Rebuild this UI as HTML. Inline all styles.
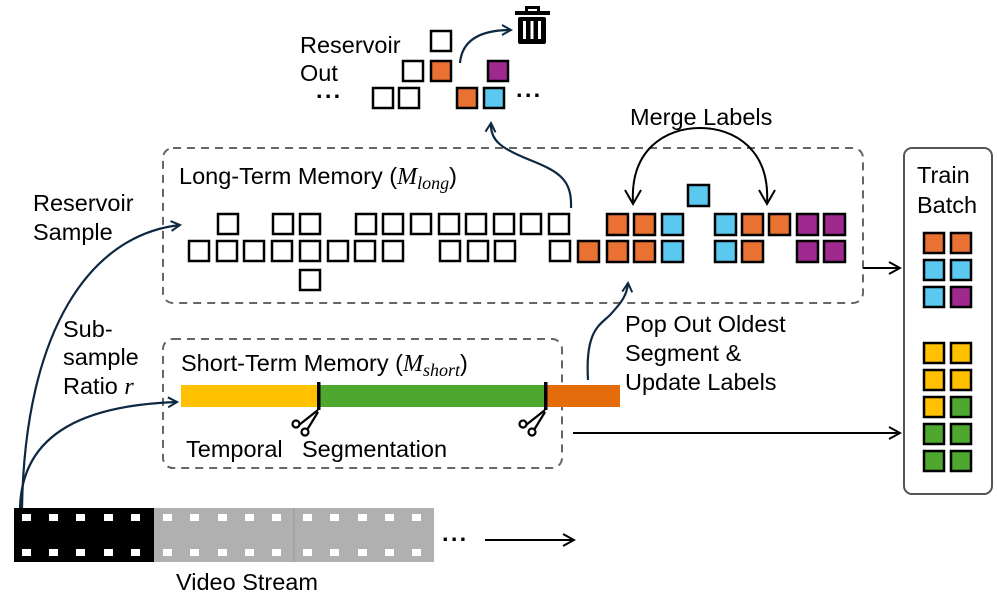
<!DOCTYPE html>
<html><head><meta charset="utf-8"><style>
html,body{margin:0;padding:0;background:#fff;}
svg{display:block;}
text{font-family:"Liberation Sans",sans-serif;font-size:23.5px;fill:#000;}
.m{font-family:"Liberation Serif",serif;font-style:italic;}
</style></head><body>
<svg width="997" height="614" viewBox="0 0 997 614" xmlns="http://www.w3.org/2000/svg">
<defs>
<marker id="ah" viewBox="0 0 12 12" refX="10" refY="6" markerWidth="12" markerHeight="12" markerUnits="userSpaceOnUse" orient="auto">
<path d="M1,1 L10,6 L1,11" fill="none" stroke="#0E2841" stroke-width="2"/></marker>
<marker id="ab" viewBox="0 0 14 14" refX="12" refY="7" markerWidth="14" markerHeight="14" markerUnits="userSpaceOnUse" orient="auto">
<path d="M1,1 L12,7 L1,13" fill="none" stroke="#000" stroke-width="2"/></marker>
</defs>

<rect x="163" y="148" width="700" height="155" rx="10" fill="none" stroke="#666" stroke-width="2" stroke-dasharray="8,6"/>
<rect x="163" y="339" width="399" height="129" rx="10" fill="none" stroke="#666" stroke-width="2" stroke-dasharray="8,6"/>
<rect x="904" y="148" width="88" height="346" rx="8" fill="#fff" stroke="#555" stroke-width="2"/>

<text x="300" y="53">Reservoir</text>
<text x="300" y="81">Out</text>
<text x="316" y="104" style="font-weight:bold;letter-spacing:1px">···</text>
<text x="516" y="103" style="font-weight:bold;letter-spacing:1px">···</text>
<text x="630" y="125">Merge Labels</text>
<text x="179" y="184">Long-Term Memory (<tspan class="m" font-size="24">M</tspan><tspan class="m" font-size="18" dy="5">long</tspan><tspan dy="-5">)</tspan></text>
<text x="33" y="211">Reservoir</text>
<text x="33" y="240">Sample</text>
<text x="63" y="337">Sub-</text>
<text x="63" y="365">sample</text>
<text x="63" y="394">Ratio  <tspan class="m" font-size="24">r</tspan></text>
<text x="181" y="371">Short-Term Memory (<tspan class="m" font-size="24">M</tspan><tspan class="m" font-size="18" dy="5">short</tspan><tspan dy="-5">)</tspan></text>
<text x="186" y="457">Temporal</text>
<text x="302" y="457">Segmentation</text>
<text x="625" y="332">Pop Out Oldest</text>
<text x="625" y="361">Segment &amp;</text>
<text x="625" y="390">Update Labels</text>
<text x="917" y="183">Train</text>
<text x="917" y="213">Batch</text>
<text x="176" y="590">Video Stream</text>
<text x="442" y="547" style="font-weight:bold;letter-spacing:1px">···</text>

<g fill="#000">
<rect x="528" y="6" width="9" height="3"/>
<rect x="525" y="6" width="3" height="6"/><rect x="537" y="6" width="3" height="6"/>
<rect x="515" y="11" width="35" height="4"/>
<rect x="518" y="17" width="28" height="27" rx="2"/>
</g>
<g fill="#fff"><rect x="523" y="21" width="3" height="18"/><rect x="530.5" y="21" width="3" height="18"/><rect x="538" y="21" width="3" height="18"/></g>

<g stroke="#000" stroke-width="2.5">
<rect x="431" y="31" width="20" height="20" fill="#fff"/>
<rect x="403" y="61" width="20" height="20" fill="#fff"/>
<rect x="431" y="61" width="20" height="20" fill="#E97132"/>
<rect x="488" y="61" width="20" height="20" fill="#A0298F"/>
<rect x="373" y="88" width="20" height="20" fill="#fff"/>
<rect x="399" y="88" width="20" height="20" fill="#fff"/>
<rect x="457" y="88" width="20" height="20" fill="#E97132"/>
<rect x="484" y="88" width="20" height="20" fill="#5BC8F0"/>

<g fill="#fff">
<rect x="218" y="214" width="20" height="20"/>
<rect x="273" y="214" width="20" height="20"/><rect x="300" y="214" width="20" height="20"/>
<rect x="356" y="214" width="20" height="20"/><rect x="383" y="214" width="20" height="20"/><rect x="411" y="214" width="20" height="20"/><rect x="439" y="214" width="20" height="20"/><rect x="466" y="214" width="20" height="20"/><rect x="494" y="214" width="20" height="20"/><rect x="521" y="214" width="20" height="20"/><rect x="549" y="214" width="20" height="20"/>
<rect x="189" y="241" width="20" height="20"/><rect x="217" y="241" width="20" height="20"/><rect x="244" y="241" width="20" height="20"/><rect x="272" y="241" width="20" height="20"/><rect x="300" y="241" width="20" height="20"/><rect x="328" y="241" width="20" height="20"/><rect x="355" y="241" width="20" height="20"/><rect x="383" y="241" width="20" height="20"/>
<rect x="440" y="241" width="20" height="20"/><rect x="468" y="241" width="20" height="20"/><rect x="495" y="241" width="20" height="20"/>
<rect x="550" y="241" width="20" height="20"/>
<rect x="300" y="270" width="20" height="20"/>
</g>
<rect x="688" y="185" width="21" height="21" fill="#5BC8F0"/>
<rect x="607" y="214" width="21" height="21" fill="#E97132"/><rect x="634" y="214" width="21" height="21" fill="#E97132"/><rect x="662" y="214" width="21" height="21" fill="#5BC8F0"/>
<rect x="715" y="214" width="21" height="21" fill="#5BC8F0"/><rect x="742" y="214" width="21" height="21" fill="#E97132"/><rect x="769" y="214" width="21" height="21" fill="#E97132"/><rect x="797" y="214" width="21" height="21" fill="#A0298F"/><rect x="824" y="214" width="21" height="21" fill="#A0298F"/>
<rect x="578" y="241" width="21" height="21" fill="#E97132"/><rect x="607" y="241" width="21" height="21" fill="#E97132"/><rect x="634" y="241" width="21" height="21" fill="#E97132"/><rect x="662" y="241" width="21" height="21" fill="#5BC8F0"/>
<rect x="715" y="241" width="21" height="21" fill="#5BC8F0"/><rect x="742" y="241" width="21" height="21" fill="#E97132"/>
<rect x="797" y="241" width="21" height="21" fill="#A0298F"/><rect x="824" y="241" width="21" height="21" fill="#A0298F"/>

<rect x="924" y="233" width="20" height="20" fill="#E97132"/><rect x="951" y="233" width="20" height="20" fill="#E97132"/>
<rect x="924" y="260" width="20" height="20" fill="#5BC8F0"/><rect x="951" y="260" width="20" height="20" fill="#5BC8F0"/>
<rect x="924" y="287" width="20" height="20" fill="#5BC8F0"/><rect x="951" y="287" width="20" height="20" fill="#A0298F"/>
<rect x="924" y="343" width="20" height="20" fill="#FFC000"/><rect x="951" y="343" width="20" height="20" fill="#FFC000"/>
<rect x="924" y="370" width="20" height="20" fill="#FFC000"/><rect x="951" y="370" width="20" height="20" fill="#FFC000"/>
<rect x="924" y="397" width="20" height="20" fill="#FFC000"/><rect x="951" y="397" width="20" height="20" fill="#4EA72E"/>
<rect x="924" y="424" width="20" height="20" fill="#4EA72E"/><rect x="951" y="424" width="20" height="20" fill="#4EA72E"/>
<rect x="924" y="451" width="20" height="20" fill="#4EA72E"/><rect x="951" y="451" width="20" height="20" fill="#4EA72E"/>
</g>

<rect x="181" y="385" width="138" height="22" fill="#FFC000"/>
<rect x="319" y="385" width="227" height="22" fill="#4EA72E"/>
<rect x="546" y="385" width="74" height="22" fill="#E46C0A"/>
<rect x="317" y="382" width="3.5" height="28" fill="#000"/>
<rect x="544" y="382" width="3.5" height="28" fill="#000"/>
<g fill="none" stroke="#000" stroke-width="2.2">
<path d="M318,410 L299,425 M318,412 L307,430"/>
<circle cx="296" cy="424" r="3.5"/><circle cx="305" cy="432" r="3.5"/>
<path d="M545,410 L526,425 M545,412 L534,430"/>
<circle cx="523" cy="424" r="3.5"/><circle cx="532" cy="432" r="3.5"/>
</g>

<rect x="14" y="508" width="140" height="54" fill="#000"/>
<rect x="154" y="508" width="280" height="54" fill="#b0b0b0"/>
<line x1="294" y1="508" x2="294" y2="562" stroke="#999" stroke-width="1"/>
<g fill="#fff">
<rect x="22" y="514" width="9" height="7"/><rect x="49" y="514" width="9" height="7"/><rect x="76" y="514" width="9" height="7"/><rect x="104" y="514" width="9" height="7"/><rect x="131" y="514" width="9" height="7"/>
<rect x="22" y="549" width="9" height="7"/><rect x="49" y="549" width="9" height="7"/><rect x="76" y="549" width="9" height="7"/><rect x="104" y="549" width="9" height="7"/><rect x="131" y="549" width="9" height="7"/>
<rect x="163" y="514" width="9" height="7"/><rect x="190" y="514" width="9" height="7"/><rect x="218" y="514" width="9" height="7"/><rect x="245" y="514" width="9" height="7"/><rect x="272" y="514" width="9" height="7"/>
<rect x="163" y="549" width="9" height="7"/><rect x="190" y="549" width="9" height="7"/><rect x="218" y="549" width="9" height="7"/><rect x="245" y="549" width="9" height="7"/><rect x="272" y="549" width="9" height="7"/>
<rect x="303" y="514" width="9" height="7"/><rect x="330" y="514" width="9" height="7"/><rect x="358" y="514" width="9" height="7"/><rect x="385" y="514" width="9" height="7"/><rect x="412" y="514" width="9" height="7"/>
<rect x="303" y="549" width="9" height="7"/><rect x="330" y="549" width="9" height="7"/><rect x="358" y="549" width="9" height="7"/><rect x="385" y="549" width="9" height="7"/><rect x="412" y="549" width="9" height="7"/>
</g>

<g fill="none" stroke="#0E2841" stroke-width="2.2">
<path d="M22,508 C25,330 90,235 180,225" marker-end="url(#ah)"/>
<path d="M20,508 C22,430 90,405 177,402" marker-end="url(#ah)"/>
<path d="M571,208 C572,180 560,172 530,160 C500,148 490,140 491,123" marker-end="url(#ah)"/>
<path d="M588,380 C585,330 600,325 610,315 C622,302 627,295 628,283" marker-end="url(#ah)"/>
<path d="M460,63 C462,40 480,30 511,30" marker-end="url(#ah)"/>
</g>
<g fill="none" stroke="#000" stroke-width="2">
<path d="M633,203 C630,150 665,128 700,128 C735,128 770,150 767,203" />
<path d="M625,190 L633,204 L641,190 M759,190 L767,204 L775,190"/>
<path d="M863,268 L900,268" marker-end="url(#ab)"/>
<path d="M573,433 L900,433" marker-end="url(#ab)"/>
<path d="M485,540 L574,540" marker-end="url(#ab)"/>
</g>
</svg>
</body></html>
